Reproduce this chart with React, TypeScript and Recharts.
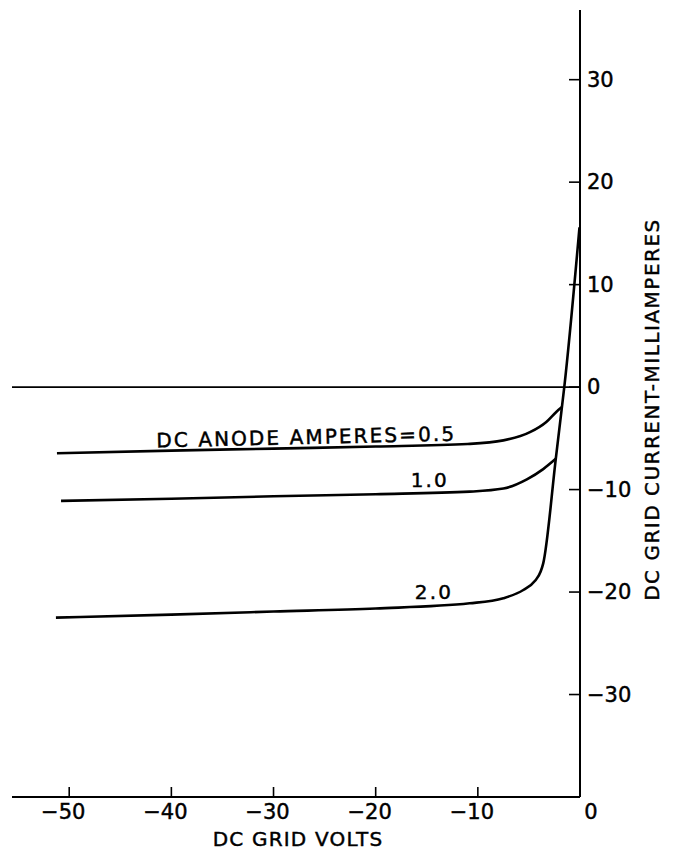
import { LineChart, Line, XAxis, YAxis, ReferenceLine, ReferenceDot } from 'recharts';

const FONT = '"DejaVu Sans", sans-serif';

// x = DC grid volts, y = DC grid current (mA)
const anode05 = [
  { x: -51.2, y: -6.45 },
  { x: -40, y: -6.2 },
  { x: -30, y: -6.0 },
  { x: -20, y: -5.8 },
  { x: -11, y: -5.55 },
  { x: -7.5, y: -5.2 },
  { x: -4.9, y: -4.4 },
  { x: -3.3, y: -3.4 },
  { x: -2.3, y: -2.4 },
  { x: -1.77, y: -1.95 },
];

const anode10 = [
  { x: -50.8, y: -11.1 },
  { x: -40, y: -10.9 },
  { x: -30, y: -10.65 },
  { x: -20, y: -10.45 },
  { x: -10.8, y: -10.2 },
  { x: -7.5, y: -9.9 },
  { x: -5.2, y: -9.0 },
  { x: -3.6, y: -8.0 },
  { x: -2.37, y: -7.0 },
];

// the 2.0 A curve carries on up the common steep branch
const anode20 = [
  { x: -51.3, y: -22.5 },
  { x: -40, y: -22.2 },
  { x: -30, y: -21.9 },
  { x: -20, y: -21.6 },
  { x: -10.8, y: -21.1 },
  { x: -7.5, y: -20.6 },
  { x: -5.55, y: -19.8 },
  { x: -4.4, y: -18.9 },
  { x: -3.85, y: -18.0 },
  { x: -3.6, y: -17.2 },
  { x: -2.37, y: -7.0 },
  { x: -1.77, y: -1.95 },
  { x: -1.54, y: 0 },
  { x: -0.05, y: 15.6 },
];

const xTicks = [-50, -40, -30, -20, -10, 0];
const yTicks = [-30, -20, -10, 0, 10, 20, 30];

const curveLabels = [
  { x: -26.8, y: -4.87, text: 'DC ANODE AMPERES=0.5', angle: -1.3 },
  { x: -14.7, y: -9.06, text: '1.0', angle: 0 },
  { x: -14.3, y: -19.96, text: '2.0', angle: 0 },
];

const fmt = (v: number) => (v < 0 ? '\u2212' + Math.abs(v) : String(v));

const textStyle = { fontFamily: FONT, fill: '#000', stroke: '#000', strokeWidth: 0.45 };

const XTick = (props: any) => {
  const { x, y, payload } = props;
  const v = payload.value;
  const dx = v < 0 ? -6 : v === 0 ? 11 : 0;
  return (
    <g>
      <line x1={x} y1={y} x2={x} y2={y - 10} stroke="#000" strokeWidth={1.6} />
      <text x={x + dx} y={y + 15} textAnchor="middle" dominantBaseline="central"
        fontSize={21} {...textStyle}>{fmt(v)}</text>
    </g>
  );
};

const YTick = (props: any) => {
  const { x, y, payload } = props;
  const v = payload.value;
  return (
    <g>
      <line x1={x - 11} y1={y} x2={x} y2={y} stroke="#000" strokeWidth={1.6} />
      <text x={x + 7} y={y} textAnchor="start" dominantBaseline="central"
        fontSize={21} {...textStyle}>{fmt(v)}</text>
    </g>
  );
};

const XTitle = (props: any) => {
  const vb = props.viewBox;
  return (
    <text x={vb.x + vb.width / 2 + 2} y={vb.y + 42} textAnchor="middle" dominantBaseline="central"
      fontSize={20} letterSpacing={1.2} {...textStyle}>DC GRID VOLTS</text>
  );
};

const YTitle = (props: any) => {
  const vb = props.viewBox;
  const cx = vb.x + 72;
  const cy = vb.y + vb.height / 2 + 6;
  return (
    <text x={cx} y={cy} transform={`rotate(-90, ${cx}, ${cy})`} textAnchor="middle" dominantBaseline="central"
      fontSize={20} letterSpacing={1.5} {...textStyle}>DC GRID CURRENT-MILLIAMPERES</text>
  );
};

const CurveLabel = (text: string, angle: number) => (props: any) => {
  const vb = props.viewBox;
  const cx = vb.x + vb.width / 2;
  const cy = vb.y + vb.height / 2;
  return (
    <text x={cx} y={cy} transform={`rotate(${angle}, ${cx}, ${cy})`} textAnchor="middle" dominantBaseline="central"
      fontSize={20} letterSpacing={2.1} {...textStyle}>{text}</text>
  );
};

export default function App() {
  return (
    <div style={{ position: 'absolute', left: 0, top: 0, background: '#fff' }}>
      <LineChart width={678} height={852} margin={{ top: 10, right: 38, left: 12, bottom: 0 }}>
        <XAxis
          dataKey="x"
          type="number"
          domain={[-55.6, 0]}
          ticks={xTicks}
          interval={0}
          allowDataOverflow
          height={55}
          tickSize={0}
          tickMargin={0}
          tickLine={false}
          tick={<XTick />}
          axisLine={{ stroke: '#000', strokeWidth: 2 }}
          label={{ content: XTitle }}
        />
        <YAxis
          type="number"
          orientation="right"
          domain={[-40, 36.8]}
          ticks={yTicks}
          interval={0}
          allowDataOverflow
          width={60}
          tickSize={0}
          tickMargin={0}
          tickLine={false}
          tick={<YTick />}
          axisLine={{ stroke: '#000', strokeWidth: 2 }}
          label={{ content: YTitle }}
        />
        <ReferenceLine y={0} stroke="#000" strokeWidth={1.8} />
        <Line data={anode05} dataKey="y" type="monotone" stroke="#000" strokeWidth={2.6} dot={false} isAnimationActive={false} />
        <Line data={anode10} dataKey="y" type="monotone" stroke="#000" strokeWidth={2.6} dot={false} isAnimationActive={false} />
        <Line data={anode20} dataKey="y" type="monotone" stroke="#000" strokeWidth={2.6} dot={false} isAnimationActive={false} />
        {curveLabels.map((c) => (
          <ReferenceDot key={c.text} x={c.x} y={c.y} r={1} fill="none" stroke="none"
            label={{ content: CurveLabel(c.text, c.angle) }} />
        ))}
      </LineChart>
    </div>
  );
}
